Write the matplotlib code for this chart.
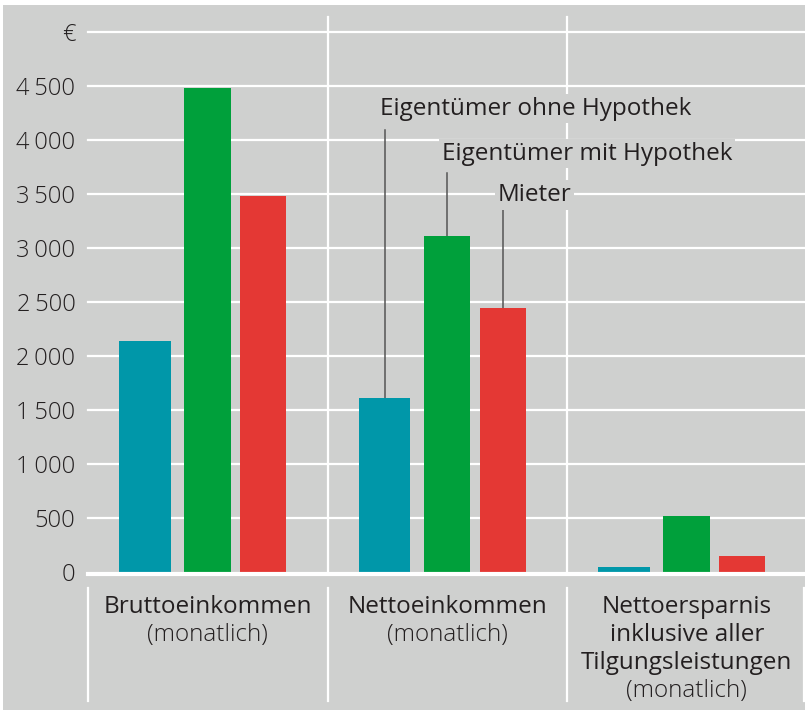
import matplotlib
matplotlib.use("Agg")
import matplotlib.pyplot as plt
from matplotlib.patches import Rectangle
from matplotlib.lines import Line2D
import matplotlib.transforms as mtransforms

plt.rcParams['font.family'] = ['Open Sans', 'DejaVu Sans']

# ---- data ----
categories = [
    ["Bruttoeinkommen", "(monatlich)"],
    ["Nettoeinkommen", "(monatlich)"],
    ["Nettoersparnis", "inklusive aller", "Tilgungsleistungen", "(monatlich)"],
]
series_names = ["Eigentümer ohne Hypothek", "Eigentümer mit Hypothek", "Mieter"]
ohne_hypothek = [2140, 1610, 50]
mit_hypothek = [4480, 3110, 520]
mieter = [3480, 2440, 150]
tick_values = [0, 500, 1000, 1500, 2000, 2500, 3000, 3500, 4000, 4500, 5000]
tick_labels = ["0", "500", "1\u2009000", "1\u2009500", "2\u2009000", "2\u2009500",
               "3\u2009000", "3\u2009500", "4\u2009000", "4\u2009500", "€"]
# label positions (value where the leader line ends / text centre)
label_line_top = [4090, 3690, 3350]
label_text_y = [4290, 3875, 3490]

# ---- style ----
BG = "#cfd0cf"
TXT = "#231f20"
colors = ["#0097a9", "#00a03b", "#e43834"]
offsets = [0.238, 0.499, 0.731]
widths = [0.217, 0.196, 0.192]

W, H = 807, 710
fig = plt.figure(figsize=(W / 100, H / 100), dpi=100, facecolor="white")
# gray panel
fig.patches.append(Rectangle((3 / W, 0), (805 - 3) / W, (H - 5) / H,
                             transform=fig.transFigure, facecolor=BG,
                             edgecolor="none", zorder=-5))

x0, x1 = 88, 806.5
y0, y1 = 572, 32
ax = fig.add_axes([x0 / W, (H - y0) / H, (x1 - x0) / W, (y0 - y1) / H])
ax.set_zorder(2)
ax.set_facecolor("none")
ax.patch.set_visible(False)
ax.set_xlim(0, 3)
ax.set_ylim(0, 5000)
for s in ax.spines.values():
    s.set_visible(False)
ax.set_xticks([])
ax.set_yticks(tick_values)
ax.set_yticklabels(tick_labels)
ax.tick_params(axis="y", length=0, pad=9, labelsize=17, labelcolor=TXT)
for lab in ax.get_yticklabels():
    lab.set_fontweight("light")

# horizontal gridlines
for v in tick_values[1:]:
    ax.axhline(v, color="white", lw=1.6, zorder=1, clip_on=False)
ax.axhline(-15, color="white", lw=3.0, zorder=4, clip_on=False)

# vertical separators within plot
for xs in [1, 2]:
    ax.plot([xs, xs], [0, 5140], color="white", lw=1.6, zorder=1, clip_on=False)

# bars
all_series = [ohne_hypothek, mit_hypothek, mieter]
for si, vals in enumerate(all_series):
    xs = [i + offsets[si] for i in range(len(vals))]
    ax.bar(xs, vals, width=widths[si], color=colors[si], zorder=3, linewidth=0)

# series labels with leader lines (on middle group)
for si, vals in enumerate(all_series):
    xc = 1 + offsets[si]
    ax.plot([xc, xc], [vals[1], label_line_top[si]], color="#555555", lw=1.1, zorder=2)
    trans = ax.transData + mtransforms.ScaledTranslation(-5 / 100, 0, fig.dpi_scale_trans)
    ax.text(xc, label_text_y[si], series_names[si], transform=trans, ha="left",
            va="center", fontsize=17.5, color=TXT, zorder=5, fontweight="medium",
            bbox=dict(facecolor=BG, edgecolor="none", pad=2))

# category labels below
line_h = 28
for ci, lines in enumerate(categories):
    xc = (ci + 0.5)
    xpix = x0 + xc * (x1 - x0) / 3
    for li, t in enumerate(lines):
        weight = "light" if t.startswith("(") else "medium"
        ypix = 607 + li * line_h
        fig.text(xpix / W, 1 - ypix / H, t, ha="center", va="center",
                 fontsize=17.5, color=TXT, fontweight=weight)

# lower separators
for xs in [0, 1, 2, 3]:
    xpix = min(x0 + xs * (x1 - x0) / 3, 804)
    fig.add_artist(Line2D([xpix / W, xpix / W], [1 - 588 / H, 1 - 701 / H],
                          transform=fig.transFigure, color="white", lw=1.6))

fig.savefig("out.png", dpi=100, facecolor="white")
